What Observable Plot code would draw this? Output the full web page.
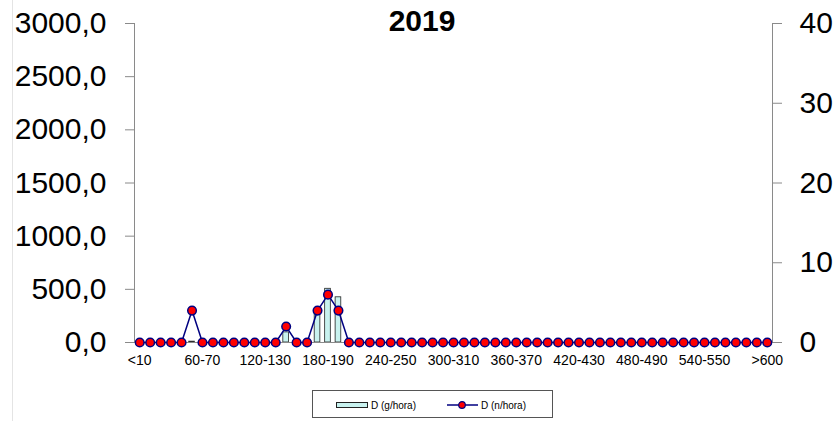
<!DOCTYPE html>
<html><head><meta charset="utf-8">
<script src="https://cdn.jsdelivr.net/npm/d3@7"></script>
<script src="https://cdn.jsdelivr.net/npm/@observablehq/plot@0.6"></script>
<style>
body{margin:0;background:#fff;font-family:"Liberation Sans",Arial,sans-serif;}
#wrap{position:relative;width:834px;height:421px;overflow:hidden;}
#edge{position:absolute;left:12px;top:0;width:1px;height:421px;background:#e4e4e4;}
#title{position:absolute;left:372px;width:100px;top:4px;text-align:center;font-weight:bold;font-size:30px;line-height:34px;color:#000;}
#legend{position:absolute;left:312px;top:390px;width:241px;height:28px;border:1px solid #555;box-sizing:border-box;font-size:10px;color:#000;}
#legend .item{position:absolute;top:0;height:28px;display:flex;align-items:center;}
#legend svg{display:block;margin-right:2px;}
</style>
</head><body>
<div id="wrap">
<div id="edge"></div>
<div id="chart"></div>
<div id="title">2019</div>
<div id="legend">
  <div class="item" style="left:23px"><svg width="33" height="8"><rect x="0.5" y="1.5" width="31" height="5" fill="#c8f2ef" stroke="#222" stroke-width="1"/></svg><span>D (g/hora)</span></div>
  <div class="item" style="left:134px"><svg width="32" height="10"><line x1="0" y1="5" x2="31" y2="5" stroke="#000080" stroke-width="1.5"/><circle cx="15" cy="5" r="3.3" fill="red" stroke="#000080" stroke-width="1.2"/></svg><span>D (n/hora)</span></div>
</div>
</div>
<script>
const categories = ["<10","10-20","20-30","30-40","40-50","50-60","60-70","70-80","80-90","90-100",
"100-110","110-120","120-130","130-140","140-150","150-160","160-170","170-180","180-190","190-200",
"200-210","210-220","220-230","230-240","240-250","250-260","260-270","270-280","280-290","290-300",
"300-310","310-320","320-330","330-340","340-350","350-360","360-370","370-380","380-390","390-400",
"400-410","410-420","420-430","430-440","440-450","450-460","460-470","470-480","480-490","490-500",
"500-510","510-520","520-530","530-540","540-550","550-560","560-570","570-580","580-590","590-600",">600"];

const gHora = [0,0,0,0,0,8,0,0,0,0, 0,0,0,0,95,0,0,280,505,425, 0,0,0,0,0,0,0,0,0,0,
0,0,0,0,0,0,0,0,0,0, 0,0,0,0,0,0,0,0,0,0, 0,0,0,0,0,0,0,0,0,0, 0];

const nHora = [0,0,0,0,0,4,0,0,0,0, 0,0,0,0,2,0,0,4,6,4, 0,0,0,0,0,0,0,0,0,0,
0,0,0,0,0,0,0,0,0,0, 0,0,0,0,0,0,0,0,0,0, 0,0,0,0,0,0,0,0,0,0, 0];

const xTickLabels = ["<10","60-70","120-130","180-190","240-250","300-310","360-370","420-430","480-490","540-550",">600"];
const leftTicks = [0,500,1000,1500,2000,2500,3000];
const rightTicks = [0,10,20,30,40];
const leftMax = 3000, rightMax = 40;
const K = leftMax / rightMax;

const rows = categories.map((c, i) => ({c, g: gHora[i], n: nHora[i] * K}));

const plot = Plot.plot({
  width: 834, height: 380,
  marginLeft: 134, marginRight: 62, marginTop: 23, marginBottom: 38,
  style: {fontFamily: "'Liberation Sans', Arial, sans-serif", background: "transparent", color: "#000"},
  x: {type: "band", domain: categories, paddingInner: 0, paddingOuter: 0, round: false, axis: null},
  y: {domain: [0, leftMax], axis: null},
  marks: [
    Plot.barY(rows, {x: "c", y: "g", fill: "#c8f2ef", stroke: "#222", strokeWidth: 0.8, insetLeft: 2.4, insetRight: 2.4}),
    Plot.frame({anchor: "left", stroke: "#8a8a8a"}),
    Plot.frame({anchor: "right", stroke: "#8a8a8a"}),
    Plot.frame({anchor: "bottom", stroke: "#8a8a8a"}),
    Plot.axisY({anchor: "left", ticks: leftTicks, tickSize: 9, tickPadding: 19, fontSize: 30,
      tickFormat: d => d.toFixed(1).replace(".", ","), stroke: "#8a8a8a", fill: "#000", label: null}),
    Plot.axisY({anchor: "right", ticks: rightTicks.map(v => v * K), tickSize: 9, tickPadding: 18, fontSize: 30,
      tickFormat: d => String(Math.round(d / K)), stroke: "#8a8a8a", fill: "#000", label: null}),
    Plot.axisX({anchor: "bottom", ticks: xTickLabels, tickSize: 0, tickPadding: 13, fontSize: 14, fill: "#000", label: null}),
    Plot.line(rows, {x: "c", y: "n", stroke: "#000080", strokeWidth: 1.5}),
    Plot.dot(rows, {x: "c", y: "n", r: 4.3, fill: "#ff0000", stroke: "#000080", strokeWidth: 1.5})
  ]
});
document.getElementById("chart").appendChild(plot);
</script>
</body></html>
